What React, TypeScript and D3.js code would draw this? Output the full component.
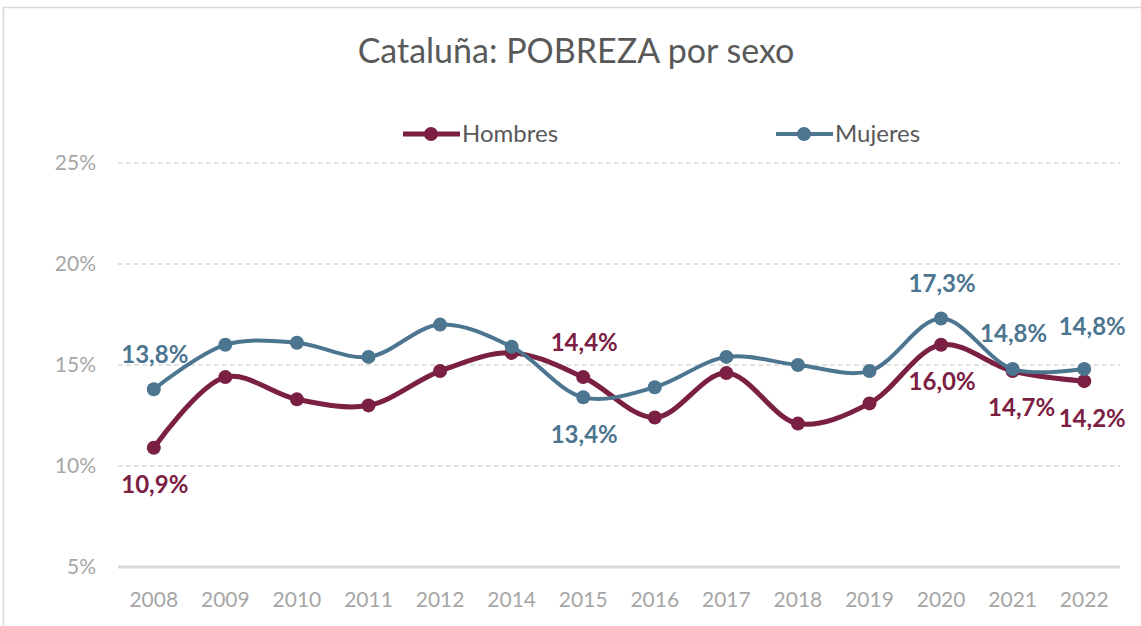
import React from "react";
import * as d3 from "d3";

const years = ["2008","2009","2010","2011","2012","2014","2015","2016","2017","2018","2019","2020","2021","2022"];
const hombres = [10.9,14.4,13.3,13.0,14.7,15.6,14.4,12.4,14.6,12.1,13.1,16.0,14.7,14.2];
const mujeres = [13.8,16.0,16.1,15.4,17.0,15.9,13.4,13.9,15.4,15.0,14.7,17.3,14.8,14.8];
const yTicks = [5,10,15,20,25];
// labelled points: [year index, position]
const hombresLabels: [number, string][] = [[0,"below"],[6,"above"],[11,"below"],[12,"below"],[13,"below"]];
const mujeresLabels: [number, string][] = [[0,"above"],[6,"below"],[11,"above"],[12,"above"],[13,"above"]];

const W = 1141, H = 626;
const C_H = "#7B2043";
const C_M = "#4C7590";
const FONT = "Lato, 'Open Sans', sans-serif";

// small label nudges (as Excel moves crowded labels)
function nudge(series: string, i: number): [number, number] {
  if (i === years.length - 1) return [7, series === "Mujeres" ? -7 : 0];
  if (series === "Hombres" && i === years.length - 2) return [8, 0];
  return [0, 0];
}

export default function App() {
  const x = d3.scalePoint<string>().domain(years).range([118, 1120]).padding(0.5);
  const y = d3.scaleLinear().domain([5, 25]).range([567, 163]);
  const line = d3.line<number>()
    .x((_, i) => x(years[i])!)
    .y(d => y(d))
    .curve(d3.curveCatmullRom.alpha(0.5));
  const fmt = (v: number) => v.toFixed(1).replace(".", ",") + "%";

  const series = [
    { name: "Hombres", data: hombres, color: C_H, width: 5, labels: hombresLabels },
    { name: "Mujeres", data: mujeres, color: C_M, width: 4, labels: mujeresLabels },
  ];

  return (
    <svg width={W} height={H} style={{ position: "absolute", left: 0, top: 0, background: "#fff" }}>
      <rect x={3.5} y={7.5} width={W + 10} height={H + 10} fill="#fff" stroke="#D9D9D9" strokeWidth={1.5} />
      <text x={576} y={63} textAnchor="middle" fontFamily={FONT} fontSize={34} fill="#595959">
        Cataluña: POBREZA por sexo
      </text>
      {/* legend */}
      {[{ n: "Hombres", c: C_H, x0: 403, w: 5 }, { n: "Mujeres", c: C_M, x0: 776, w: 4 }].map(l => (
        <g key={l.n}>
          <line x1={l.x0} x2={l.x0 + 57} y1={134} y2={134} stroke={l.c} strokeWidth={l.w} />
          <circle cx={l.x0 + 28} cy={134} r={7} fill={l.c} />
          <text x={l.x0 + 59} y={134} dy="0.35em" fontFamily={FONT} fontSize={24} fill="#595959">{l.n}</text>
        </g>
      ))}
      {/* grid */}
      {yTicks.map(t => (
        <g key={t}>
          {t === 5 ? (
            <line x1={118} x2={1120} y1={y(t)} y2={y(t)} stroke="#D9D9D9" strokeWidth={3} />
          ) : (
            <line x1={118} x2={1120} y1={y(t)} y2={y(t)} stroke="#D9D9D9" strokeWidth={1.3} strokeDasharray="5,3" />
          )}
          <text x={96} y={y(t)} dy="0.35em" textAnchor="end" fontFamily={FONT} fontSize={21} fill="#A6A6A6">{t}%</text>
        </g>
      ))}
      {years.map(yr => (
        <text key={yr} x={x(yr)} y={600} dy="0.35em" textAnchor="middle" fontFamily={FONT} fontSize={21} fill="#A6A6A6">{yr}</text>
      ))}
      {series.map(s => (
        <g key={s.name}>
          <path d={line(s.data) || ""} fill="none" stroke={s.color} strokeWidth={s.width} strokeLinejoin="round" />
          {s.data.map((v, i) => (
            <circle key={i} cx={x(years[i])} cy={y(v)} r={7} fill={s.color} />
          ))}
        </g>
      ))}
      {series.map(s => s.labels.map(([i, pos]) => {
        const [ndx, ndy] = nudge(s.name, i);
        return (
          <text key={s.name + i} x={x(years[i])! + 1 + ndx} y={y(s.data[i]) + (pos === "above" ? -35 : 37) + ndy} dy="0.35em"
            textAnchor="middle" fontFamily={FONT} fontWeight="bold" fontSize={24} fill={s.color}>
            {fmt(s.data[i])}
          </text>
        );
      }))}
    </svg>
  );
}
